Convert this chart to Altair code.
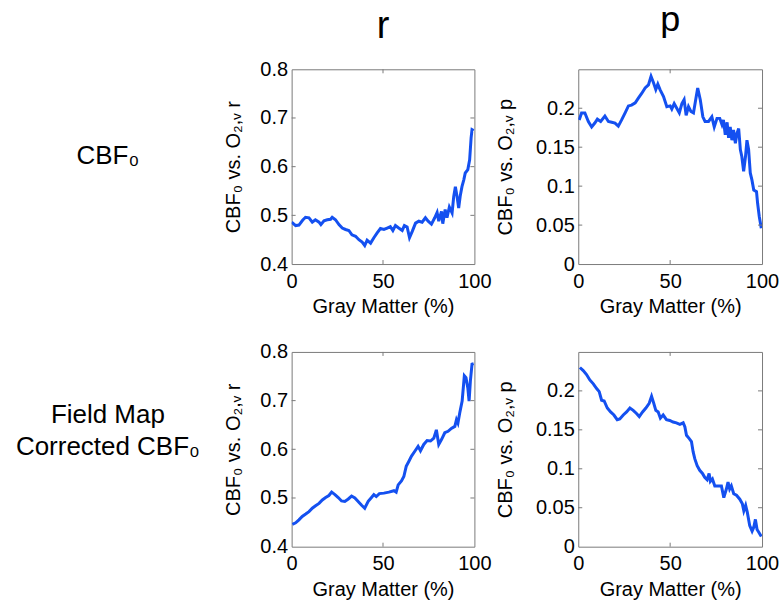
import altair as alt
import pandas as pd

# ---------------- data ----------------
# Top row: CBF0 vs O2,v  -- r
gm_r1 = [0, 2.2, 4, 6, 7.6, 9.5, 11.3, 13, 15, 16, 17.7, 19.5, 21.3, 22.2, 24, 25.9, 27.7,
         29.5, 31.3, 33, 35, 36.8, 38.6, 40, 41.3, 43.2, 45, 46.8, 48.6, 50.5, 52.3, 54,
         55.4, 56.8, 58.6, 60.5, 61.7, 63.2, 64.5, 66, 67.8, 69.6, 71.4, 73.2, 74.7, 76.5,
         78.3, 79.6, 80.5, 82, 82.7, 84, 85, 86.3, 87.8, 88.7, 89.6, 90.5, 91.4, 92.3, 93.2,
         94.2, 95, 96.4, 97.4, 98.2, 98.7, 99.6]
r1 = [0.486, 0.479, 0.480, 0.490, 0.496, 0.495, 0.486, 0.491, 0.486, 0.481, 0.489, 0.491,
      0.492, 0.496, 0.491, 0.481, 0.474, 0.471, 0.469, 0.460, 0.457, 0.450, 0.445, 0.438,
      0.449, 0.443, 0.454, 0.464, 0.473, 0.471, 0.474, 0.477, 0.469, 0.479, 0.474, 0.469,
      0.479, 0.476, 0.454, 0.467, 0.484, 0.488, 0.486, 0.495, 0.488, 0.482, 0.495, 0.506,
      0.488, 0.508, 0.483, 0.512, 0.495, 0.517, 0.505, 0.539, 0.559, 0.539, 0.515, 0.541,
      0.559, 0.573, 0.587, 0.594, 0.614, 0.659, 0.676, 0.674]

# Top row: CBF0 vs O2,v  -- p
gm_p1 = [0.5, 1.8, 3.6, 5.5, 7.3, 9, 10.4, 12.2, 14.5, 16.4, 18.2, 20, 21.8, 23.6, 25.5,
         27.3, 29, 31, 32.7, 34.5, 36.4, 38.2, 39.6, 40.9, 42.2, 43.3, 44.5, 46.4, 48.2,
         50, 50.9, 52.2, 53.6, 55, 56.4, 57.6, 58.7, 60, 61.3, 62.7, 64.2, 65, 66.4, 67.8,
         69, 70.9, 72.7, 74, 75.5, 77, 78.2, 79, 80, 81, 81.8, 82.7, 83.6, 84.5, 85.5, 86.4,
         87.3, 88.2, 89, 90, 91, 91.8, 92.7, 93.6, 94.5, 95.5, 97, 97.6, 98.5, 99.6]
p1 = [0.185, 0.194, 0.194, 0.183, 0.176, 0.181, 0.186, 0.183, 0.190, 0.183, 0.182, 0.181,
      0.177, 0.185, 0.194, 0.203, 0.204, 0.207, 0.213, 0.219, 0.226, 0.230, 0.241, 0.233,
      0.224, 0.231, 0.224, 0.215, 0.202, 0.203, 0.199, 0.206, 0.200, 0.194, 0.206, 0.211,
      0.191, 0.202, 0.196, 0.194, 0.215, 0.226, 0.211, 0.189, 0.183, 0.183, 0.189, 0.176,
      0.187, 0.187, 0.179, 0.185, 0.166, 0.182, 0.162, 0.176, 0.159, 0.172, 0.155, 0.168,
      0.174, 0.147, 0.138, 0.119, 0.138, 0.159, 0.147, 0.117, 0.108, 0.095, 0.093, 0.078,
      0.061, 0.046]

# Bottom row: field-map corrected CBF0 vs O2,v -- r
gm_r2 = [0.4, 2.2, 4, 5.8, 7.7, 9.5, 11.3, 13.1, 15, 16.8, 18.6, 20.4, 21.9, 23.7, 25.5,
         27.3, 29.1, 31, 32.8, 34.6, 36.4, 38.3, 40, 41.9, 43.7, 45, 46.3, 48, 50.5, 53.2,
         56, 57.2, 58.3, 60.1, 61.4, 62.7, 64.1, 65.6, 67.4, 69.2, 70.5, 72.3, 74.1, 76,
         77.8, 79.2, 80.5, 82, 83.8, 85.6, 87.4, 89.3, 90.2, 91, 92, 93.3, 94.5, 95.4, 96.4,
         97.1, 97.8, 98.7, 99.6]
r2 = [0.446, 0.449, 0.455, 0.462, 0.467, 0.472, 0.479, 0.484, 0.489, 0.496, 0.501, 0.505,
      0.512, 0.507, 0.501, 0.494, 0.493, 0.498, 0.504, 0.500, 0.493, 0.485, 0.479, 0.493,
      0.501, 0.507, 0.503, 0.509, 0.510, 0.512, 0.515, 0.512, 0.527, 0.535, 0.544, 0.565,
      0.575, 0.586, 0.596, 0.606, 0.597, 0.610, 0.618, 0.617, 0.623, 0.640, 0.610, 0.620,
      0.634, 0.637, 0.643, 0.647, 0.661, 0.654, 0.675, 0.699, 0.751, 0.747, 0.726, 0.699,
      0.740, 0.775, 0.776]

# Bottom row: field-map corrected CBF0 vs O2,v -- p
gm_p2 = [0.9, 2.7, 4.5, 6.3, 8.2, 10, 11.4, 12.7, 14.1, 15.8, 17.6, 19.4, 21.2, 22.6, 24.5,
         26.3, 28.1, 29.9, 31.7, 33.2, 35, 36.8, 38.6, 39.9, 41.1, 42.2, 43.5, 44.7, 46.2,
         48, 49.8, 51.6, 53.4, 55.3, 57.1, 58, 58.9, 60.3, 61.6, 62.5, 63.4, 64.7, 66.1,
         67.6, 68.8, 70.1, 71.2, 71.9, 73, 74.3, 76.1, 77.9, 79.2, 80.6, 81.5, 82.4, 83.3,
         84.6, 86.1, 87.9, 89.3, 90.1, 91.1, 92, 93.3, 94.6, 95.5, 96.4, 97.3, 98.4, 99.6]
p2 = [0.230, 0.226, 0.221, 0.214, 0.209, 0.203, 0.199, 0.188, 0.187, 0.178, 0.173, 0.169,
      0.163, 0.164, 0.169, 0.173, 0.178, 0.175, 0.171, 0.167, 0.173, 0.178, 0.184, 0.193,
      0.184, 0.175, 0.173, 0.165, 0.169, 0.163, 0.162, 0.160, 0.159, 0.157, 0.159, 0.154,
      0.143, 0.139, 0.135, 0.122, 0.113, 0.104, 0.098, 0.094, 0.089, 0.086, 0.094, 0.084,
      0.087, 0.078, 0.078, 0.078, 0.063, 0.074, 0.083, 0.074, 0.078, 0.068, 0.066, 0.061,
      0.055, 0.046, 0.053, 0.044, 0.027, 0.020, 0.025, 0.035, 0.022, 0.018, 0.013]

# axis ticks / labels
X_TICKS = [0, 50, 100]
X_DOMAIN = [0, 100]
R_TICKS = [0.4, 0.5, 0.6, 0.7, 0.8]
R_DOMAIN = [0.4, 0.8]
P_TICKS = [0, 0.05, 0.1, 0.15, 0.2]
P_DOMAIN = [0, 0.25]

COL_TITLES = ["r", "p"]
ROW_LABELS = [["CBF₀"], ["Field Map", "Corrected CBF₀"]]
X_TITLE = "Gray Matter (%)"
Y_TITLE_R = "CBF₀ vs. O₂,ᵥ r"
Y_TITLE_P = "CBF₀ vs. O₂,ᵥ p"

# ---------------- styling ----------------
FONT = "Liberation Sans"
BLUE = "#1450F0"
BOX = "#7a7a7a"
PW_R, PW_P, PH = 183, 184, 195
LABEL_W = 187
HSPACE = 104
VSPACE = 88
TICK_PX = 4


def panel(xs, ys, ydom, yticks, yfmt, ytitle, width, title_text=None,
          title_y=0, title_size=38, ytitle_pad=16):
    df = pd.DataFrame({"gm": xs, "v": ys})
    x_enc = alt.X("gm:Q",
                  scale=alt.Scale(domain=X_DOMAIN, nice=False, zero=False),
                  axis=alt.Axis(values=X_TICKS, format="d", title=X_TITLE,
                                labelFlush=False, labelOverlap=False,
                                labelPadding=7, titlePadding=6))
    y_enc = alt.Y("v:Q",
                  scale=alt.Scale(domain=ydom, nice=False, zero=False),
                  axis=alt.Axis(values=yticks, format=yfmt, title=ytitle,
                                labelFlush=False, labelOverlap=False,
                                labelPadding=4, titlePadding=ytitle_pad))
    line = alt.Chart(df).mark_line(color=BLUE, strokeWidth=3, clip=True).encode(
        x=x_enc, y=y_enc)

    dx = TICK_PX / width * (X_DOMAIN[1] - X_DOMAIN[0])
    dy = TICK_PX / PH * (ydom[1] - ydom[0])
    inner_y = [t for t in yticks if ydom[0] < t < ydom[1]]
    inner_x = [t for t in X_TICKS if X_DOMAIN[0] < t < X_DOMAIN[1]]

    left = pd.DataFrame({"gm": [X_DOMAIN[0]] * len(inner_y),
                         "gm2": [X_DOMAIN[0] + dx] * len(inner_y), "v": inner_y})
    right = pd.DataFrame({"gm": [X_DOMAIN[1] - dx] * len(inner_y),
                          "gm2": [X_DOMAIN[1]] * len(inner_y), "v": inner_y})
    bottom = pd.DataFrame({"gm": inner_x, "v": [ydom[0]] * len(inner_x),
                           "v2": [ydom[0] + dy] * len(inner_x)})
    top = pd.DataFrame({"gm": inner_x, "v": [ydom[1] - dy] * len(inner_x),
                        "v2": [ydom[1]] * len(inner_x)})

    tl = alt.Chart(left).mark_rule(color=BOX, strokeWidth=1).encode(
        x=x_enc, x2="gm2:Q", y=y_enc)
    tr = alt.Chart(right).mark_rule(color=BOX, strokeWidth=1).encode(
        x=x_enc, x2="gm2:Q", y=y_enc)
    tb = alt.Chart(bottom).mark_rule(color=BOX, strokeWidth=1).encode(
        x=x_enc, y=y_enc, y2="v2:Q")
    tt = alt.Chart(top).mark_rule(color=BOX, strokeWidth=1).encode(
        x=x_enc, y=y_enc, y2="v2:Q")

    layers = [line, tl, tr, tb, tt]
    if title_text is not None:
        tdf = pd.DataFrame({"k": [0]})
        head = alt.Chart(tdf).mark_text(
            fontSize=title_size, align="center", baseline="alphabetic",
            color="black", font=FONT).encode(
            x=alt.value(width / 2), y=alt.value(title_y),
            text=alt.value(title_text))
        layers.append(head)
    return alt.layer(*layers).properties(width=width, height=PH)


def row_label(lines, y):
    df = pd.DataFrame({"k": [0]})
    text_val = lines if len(lines) > 1 else lines[0]
    return alt.Chart(df).mark_text(
        fontSize=26, align="center", baseline="alphabetic", lineHeight=32,
        color="black", font=FONT).encode(
        x=alt.value(107), y=alt.value(y), text=alt.value(text_val)
    ).properties(width=LABEL_W, height=PH,
                 view=alt.ViewBackground(stroke="transparent"))


charts = [
    row_label(ROW_LABELS[0], 95),
    panel(gm_r1, r1, R_DOMAIN, R_TICKS, ".1f", Y_TITLE_R, PW_R,
          COL_TITLES[0], -31, 38, 16),
    panel(gm_p1, p1, P_DOMAIN, P_TICKS, "~g", Y_TITLE_P, PW_P,
          COL_TITLES[1], -38, 36, 20),
    row_label(ROW_LABELS[1], 71),
    panel(gm_r2, r2, R_DOMAIN, R_TICKS, ".1f", Y_TITLE_R, PW_R, ytitle_pad=16),
    panel(gm_p2, p2, P_DOMAIN, P_TICKS, "~g", Y_TITLE_P, PW_P, ytitle_pad=20),
]

chart = alt.concat(*charts, columns=3, spacing={"row": VSPACE, "column": HSPACE},
                   bounds="flush").properties(
    padding={"left": 0, "top": 1, "right": 0, "bottom": 0}
).configure(font=FONT, background="white").configure_view(
    stroke=BOX, strokeWidth=1
).configure_axis(
    domain=False, ticks=False, grid=False,
    labelFontSize=20, titleFontSize=20, titleFontWeight="normal",
    labelColor="black", titleColor="black", labelFont=FONT, titleFont=FONT
)

chart.save("out.html", embed_options={"renderer": "svg", "actions": False})
